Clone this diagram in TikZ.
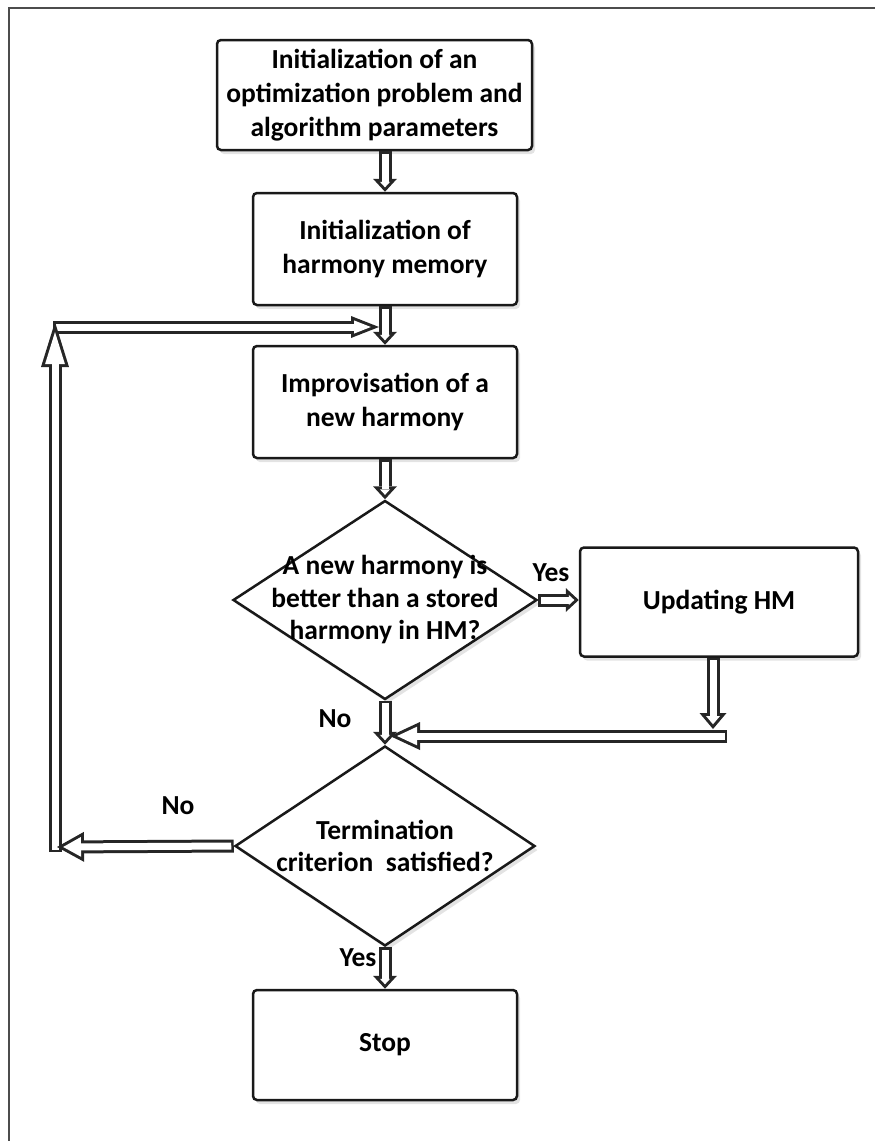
\documentclass[tikz,border=0pt]{standalone}
\usepackage{fontspec}
\setmainfont{Carlito}
\usetikzlibrary{arrows.meta,shapes.geometric,shadows}
\begin{document}
\begin{tikzpicture}[x=1pt,y=-1pt,
  txt/.style={font=\fontsize{27.5}{34}\selectfont\bfseries},
  dtxt/.style={font=\fontsize{27.5}{32.5}\selectfont\bfseries},
  shd/.style={drop shadow={opacity=.22, shadow xshift=3pt, shadow yshift=-4pt}},
  box/.style={draw=black!90, line width=2.5pt, rounded corners=4pt, fill=white,
     align=center, txt, shd},
  dia/.style={draw=black!90, line width=2.5pt, shape=diamond, fill=white,
     inner sep=0pt, shd},
  harrow/.style n args={5}{line width=13pt, draw=black!85,
     -{Triangle[length=#1pt,width=#2pt,line width=0pt]},
     postaction={draw=white, line width=7pt, shorten >=#5pt, shorten <=2.5pt,
        -{Triangle[length=#3pt,width=#4pt,line width=0pt]}}},
  sharrow/.style={harrow={13}{24}{5.6}{10.3}{4.4}}
]
\useasboundingbox (0,0) rectangle (875,1141);
% frame
\draw[black!70, line width=2pt] (875,8) -- (9,8) -- (9,1141);

% nodes
\node[box, minimum width=315pt, minimum height=110pt] (b1) at (374.5,95)
  {Initialization of an\\optimization problem and\\algorithm parameters};
\node[box, minimum width=264pt, minimum height=112pt] (b2) at (385,249)
  {Initialization of\\harmony memory};
\node[box, minimum width=264pt, minimum height=112pt] (b3) at (385,402)
  {Improvisation of a\\new harmony};
\node[dia, minimum width=304pt, minimum height=199pt,
  label={[dtxt, align=center]center:A new harmony is\\better than a stored\\harmony in HM?}] (d1) at (385,600) {};
\node[box, minimum width=278pt, minimum height=109pt] (b4) at (719,602)
  {Updating HM};
\node[dia, minimum width=300pt, minimum height=200pt,
  label={[dtxt, align=center]center:Termination\\criterion\ \ satisfied?}] (d2) at (385,846) {};
\node[box, minimum width=264pt, minimum height=110pt] (b5) at (385,1045)
  {Stop};

% labels
\node[txt] (yes1) at (551,573) {Yes};
\node[txt] (no1) at (335,719) {No};
\node[txt] (no2) at (178,806) {No};
\node[txt] (yes2) at (358,958) {Yes};

% coordinates
\coordinate (c4) at (713,729);
\coordinate (c5) at (727,736);
\coordinate (c6) at (390,736);
\coordinate (lb) at (55,852);
\coordinate (lt) at (55,322);
\coordinate (hs) at (53,327);
\coordinate (he) at (379,327);
\coordinate (le) at (57,847);

% connectors
\draw[sharrow] (b1.south -| b2.north) -- (b2.north);
\draw[sharrow] (b2.south) -- (b3.north);
\draw[sharrow] (b3.south) -- (d1.north);
\draw[sharrow] (d1.south) -- (d2.north);
\draw[sharrow] (d2.south) -- (b5.north);
\draw[sharrow] (d1.east) -- (d1.east -| b4.west);
\draw[harrow={16}{27}{8.3}{14}{4.7}] (b4.south -| c4) -- (c4);
\draw[harrow={30}{28}{19.9}{18.6}{7.1}] (c5) -- (c6);
\draw[harrow={28}{22}{16.8}{13.2}{8.2}] (hs) -- (he);
\draw[harrow={45}{28}{31.9}{19.8}{10.1}] (lb) -- (lt);
\draw[harrow={27}{30}{17.8}{19.8}{6.2}] (d2.west) -- (le);
\end{tikzpicture}
\end{document}
